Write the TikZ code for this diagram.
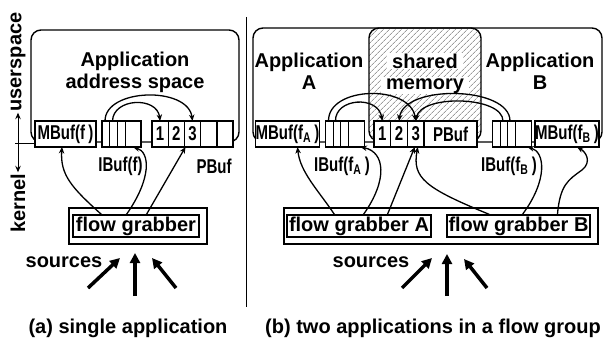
\documentclass[tikz,border=0pt]{standalone}
\usepackage{fontspec}
\setmainfont{Liberation Sans}
\newfontfamily\narrowfont[FakeStretch=0.75]{Liberation Sans}
\usetikzlibrary{calc,arrows.meta,patterns.meta}
\def\bigfont{\fontsize{20}{22}\selectfont\bfseries}
\def\boxfont{\narrowfont\fontsize{20}{22}\selectfont\bfseries}
\def\ibufcells#1{\foreach \dx in {7.5,15,23}{\draw[line width=0.7pt] ($(#1.north west)+(\dx,0)$) -- ($(#1.south west)+(\dx,0)$);}}

\tikzset{
	buf/.style={draw, fill=white, line width=1.4pt, minimum height=26pt, inner sep=0pt, outer sep=0pt, font=\boxfont},
	grabbox/.style={draw, line width=1.1pt, inner sep=1pt, minimum height=22pt},
	lbl/.style={inner sep=0pt, font=\boxfont},
	flow/.style={line width=1.3pt, -{Stealth[length=6.5pt,width=5.5pt]}},
	src/.style={line width=3.5pt, -{Triangle[length=10pt,width=10pt]}},
	addrspace/.style={draw, line width=1.4pt, rounded corners=10pt},
}

\begin{document}
\begin{tikzpicture}[x=1pt, y=1pt, font=\bigfont]
		%%%%% START %%%%%
		\useasboundingbox (0,0) rectangle (604,-345);
		
		%%%%% (a) single application
		\draw[addrspace] (31,-30) rectangle (239,-142);
		\draw[line width=1pt] (15,-143) -- (35,-143);
		\coordinate (bnd) at (18,-143);
		\node[rotate=90, inner sep=1pt] (user) at (18,-62) {userspace};
		\node[rotate=90, inner sep=1pt] (kern) at (18,-203) {kernel};
		\draw[flow, line width=1pt] (bnd) -- (user.west);
		\draw[flow, line width=1pt] (bnd) -- (kern.east);
		
		\node[align=center] (app) at (135,-72) {Application\\address space};
		
		\node[buf, minimum width=61pt] (mbuf) at (65.5,-134) {MBuf(f\,)};
		\node[buf, minimum width=39pt] (ibuf) at (121.5,-134) {};
		\ibufcells{ibuf}
		\foreach \i/\t in {1/1,2/2,3/3,4/,5/}
			\node[buf, minimum width=16.2pt] (p\i) at ({143.9+16.2*\i},-134) {\t};
		
		\node[lbl] (ibuflbl) at (120.5,-166) {IBuf(f)};
		\node[lbl] (pbuflbl) at (214,-166) {PBuf};
		
		\node[grabbox, minimum width=138pt, minimum height=36pt] (grab) at (138,-226) {};
		\node[grabbox, minimum width=126pt] (grabin) at (136,-226) {flow grabber};
		
		\draw[flow] ($(ibuf.north west)+(3,0)$) .. controls (105,-88) and (188,-86) .. (p3.north);
		\draw[flow] ($(ibuf.north west)+(10.5,0)$) .. controls (113,-98) and (157,-96) .. (p1.north);
		
		\draw[flow] ($(grabin.north west)+(29,0)$) .. controls (72,-188) and (60,-175) .. ($(mbuf.south)+(-3.5,0)$);
		\draw[flow] ($(grabin.north west)+(54,0)$) .. controls (152,-178) and (150,-152) .. ($(ibuf.south east)+(-8,0)$);
		\draw[flow] ($(grabin.north west)+(74,0)$) -- ($(p3.south)+(-7,0)$);
		
		\node (srca) at (64,-262) {sources};
		\coordinate (sa1) at (88,-288);  \coordinate (ta1) at (120,-258);
		\coordinate (sa2) at (135,-296); \coordinate (ta2) at (135,-253);
		\coordinate (sa3) at (176,-288); \coordinate (ta3) at (152,-258);
		\draw[src] (sa1) -- (ta1);
		\draw[src] (sa2) -- (ta2);
		\draw[src] (sa3) -- (ta3);
		
		\node (capa) at (128,-328) {(a) single application};
		
		\draw[line width=1pt] (246,-17) -- (246,-307);
		
		%%%%% (b) two applications in a flow group
		\draw[addrspace] (253,-28) rectangle (602,-142);
		\draw[addrspace, pattern={Lines[angle=45, distance=4pt, line width=0.6pt]}, pattern color=black!60] (369,-28) rectangle (481,-141);
		
		\node[align=center] (appa) at (309,-71) {Application\\A};
		\node[align=center] (appb) at (540,-71) {Application\\B};
		\node[fill=white, inner xsep=5pt, inner ysep=1pt, anchor=base] (shr) at (425,-68) {shared};
		\node[fill=white, inner xsep=5pt, inner ysep=1pt, anchor=base] (mem) at (425,-89) {memory};
		
		\node[buf, minimum width=61pt] (mbufA) at (287.5,-134) {MBuf(f\textsubscript{A}\,)};
		\node[buf, minimum width=39pt] (ibufA) at (345,-134) {};
		\ibufcells{ibufA}
		\foreach \i in {1,2,3}
			\node[buf, minimum width=16.7pt] (q\i) at ({365.65+16.7*\i},-134) {\i};
		\node[buf, minimum width=53pt, anchor=west] (q4) at (q3.east) {PBuf};
		\node[buf, minimum width=39pt] (ibufB) at (512,-134) {};
		\ibufcells{ibufB}
		\node[buf, minimum width=61pt] (mbufB) at (567,-134) {MBuf(f\textsubscript{B}\,)};
		
		\node[lbl] (ibufAlbl) at (342,-166) {IBuf(f\textsubscript{A}\,)};
		\node[lbl] (ibufBlbl) at (509,-166) {IBuf(f\textsubscript{B}\,)};
		
		\node[grabbox, minimum width=314pt, minimum height=36pt] (grabs) at (441,-226) {};
		\node[grabbox, minimum width=144pt] (grabA) at (359,-226) {flow grabber A};
		\node[grabbox, minimum width=143pt] (grabB) at (518.5,-226) {flow grabber B};
		
		\draw[flow] ($(ibufA.north west)+(3,0)$) .. controls (328,-86) and (410,-84) .. (q3.north);
		\draw[flow] ($(ibufA.north west)+(10,0)$) .. controls (335,-98) and (378,-95) .. (q1.north);
		\draw[flow] ($(ibufB.north west)+(10.5,0)$) .. controls (503,-96) and (421,-94) .. (q3.north);
		\draw[flow] ($(ibufB.north west)+(17.5,0)$) .. controls (510,-86) and (404,-84) .. (q2.north);
		
		\draw[flow] ($(grabA.north west)+(48,0)$) .. controls (318,-190) and (300,-172) .. ($(mbufA.south)+(10,0)$);
		\draw[flow] ($(grabA.north west)+(77,0)$) .. controls (388,-180) and (385,-152) .. ($(ibufA.south east)+(-4,0)$);
		\draw[flow] ($(grabA.north west)+(101,0)$) -- ($(q3.south)+(-1,0)$);
		\draw[flow] ($(grabB.north west)+(43,0)$) .. controls (425,-188) and (412,-178) .. ($(q3.south)+(2,0)$);
		\draw[flow] ($(grabB.north west)+(76,0)$) .. controls (548,-180) and (545,-152) .. ($(ibufB.south east)+(-4,0)$);
		\draw[flow] ($(grabB.north west)+(111,0)$) .. controls (560,-185) and (568,-180) .. (582,-170)
			.. controls (592,-162) and (586,-152) .. ($(mbufB.south)+(10,0)$);
		
		\node (srcb) at (371,-262) {sources};
		\coordinate (sb1) at (402,-288); \coordinate (tb1) at (432,-258);
		\coordinate (sb2) at (447,-296); \coordinate (tb2) at (447,-254);
		\coordinate (sb3) at (487,-288); \coordinate (tb3) at (464,-259);
		\draw[src] (sb1) -- (tb1);
		\draw[src] (sb2) -- (tb2);
		\draw[src] (sb3) -- (tb3);
		
		\node (capb) at (433,-328) {(b) two applications in a flow group};
		%%%%% END %%%%%
\end{tikzpicture}
\end{document}
